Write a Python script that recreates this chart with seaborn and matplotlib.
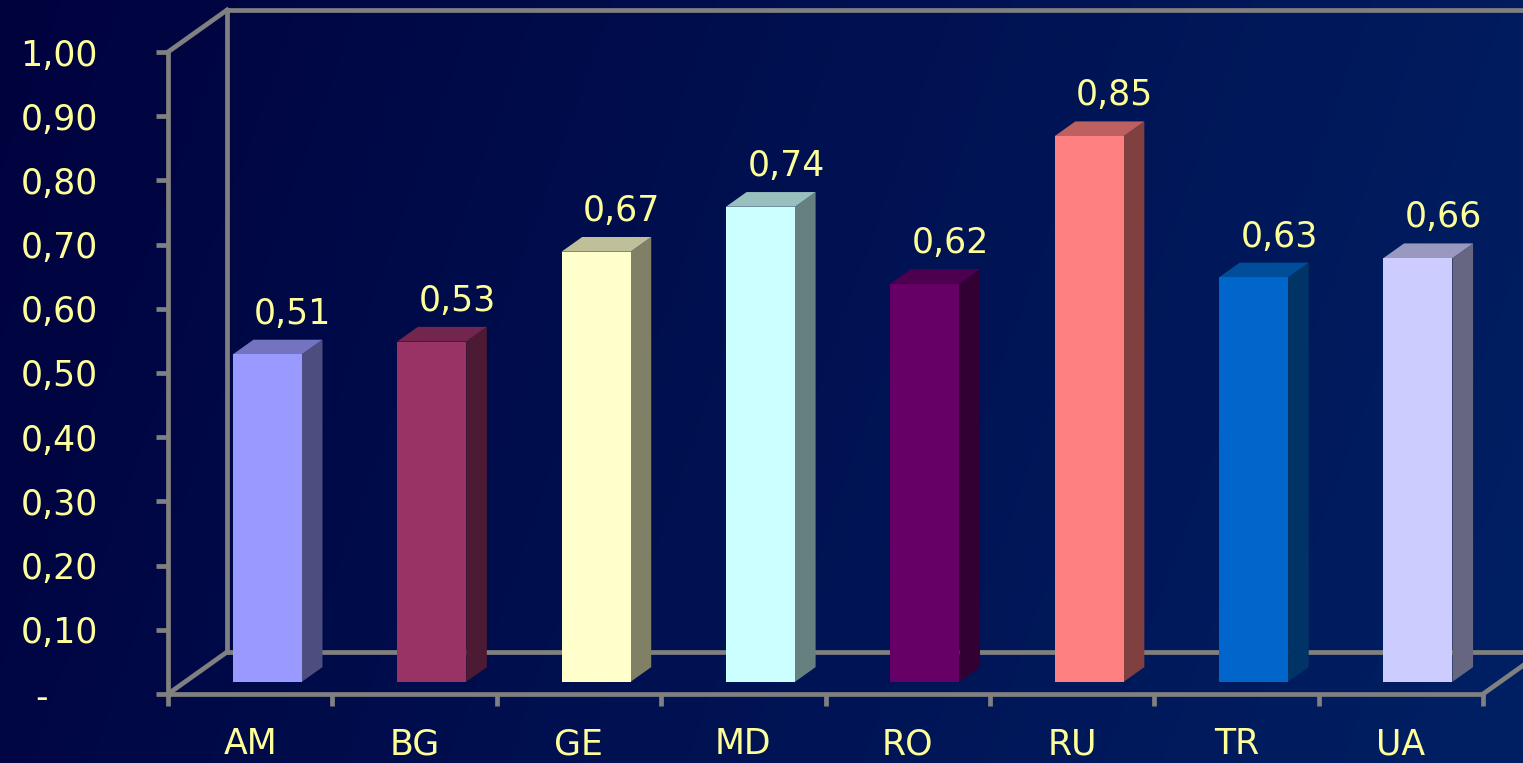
import numpy as np
import pandas as pd
import matplotlib
matplotlib.use("Agg")
import matplotlib.pyplot as plt
import matplotlib.transforms as mtransforms
import seaborn as sns

# ---- data ----
countries = ["AM", "BG", "GE", "MD", "RO", "RU", "TR", "UA"]
values = [0.51, 0.53, 0.67, 0.74, 0.62, 0.85, 0.63, 0.66]
front_colors = ["#9999FF", "#993366", "#FFFFCC", "#CCFFFF",
                "#660066", "#FF8080", "#0066CC", "#CCCCFF"]
y_ticks = [0.0, 0.1, 0.2, 0.3, 0.4, 0.5, 0.6, 0.7, 0.8, 0.9, 1.0]
y_tick_labels = ["-", "0,10", "0,20", "0,30", "0,40", "0,50",
                 "0,60", "0,70", "0,80", "0,90", "1,00"]

# ---- style ----
sns.set_theme(style="white")
plt.rcParams['font.family'] = ['DejaVu Sans']
TXT = "#FFFF99"
GRID = "#808080"
FS = 25
LW = 3.4

fig = plt.figure(figsize=(15.23, 7.63), dpi=100)

# background gradient
bg = fig.add_axes([0, 0, 1, 1], zorder=0)
gx = np.linspace(0, 1, 400)[None, :]
gy = np.linspace(0, 1, 200)[:, None]
t = np.clip(0.85 * gx + 0.15 * gy, 0, 1)
left_c = np.array([0, 2, 62]) / 255.0
right_c = np.array([0, 32, 100]) / 255.0
img = left_c[None, None, :] + (right_c - left_c)[None, None, :] * t[:, :, None]
bg.imshow(img, aspect="auto", extent=[0, 1, 0, 1], origin="upper")
bg.set_axis_off()

ax = fig.add_axes([168 / 1523, 69 / 763, 1315 / 1523, 642 / 763], zorder=1)
ax.set_facecolor("none")

DX, DY = 0.359, 0.0654      # depth vector in data units
F0, F1 = 0.29, 0.64         # bar front/back depth fractions
W = 0.42

shift = mtransforms.Affine2D().translate(F0 * DX, F0 * DY) + ax.transData

df = pd.DataFrame({"country": countries, "value": values})
sns.barplot(data=df, x="country", y="value", hue="country",
            palette=front_colors, saturation=1, width=W, legend=False,
            ax=ax, linewidth=0, transform=shift, zorder=4)


def shade(c, f):
    r, g, b = matplotlib.colors.to_rgb(c)
    return (r * f, g * f, b * f)


for i, (v, c) in enumerate(zip(values, front_colors)):
    x0 = i - W / 2 + F0 * DX
    x1 = x0 + W
    y0 = F0 * DY
    ddx = (F1 - F0) * DX
    ddy = (F1 - F0) * DY
    # side face
    ax.fill([x1, x1 + ddx, x1 + ddx, x1], [y0, y0 + ddy, y0 + v + ddy, y0 + v],
            color=shade(c, 0.5), lw=0, zorder=3, clip_on=False)
    # top face
    ax.fill([x0, x1, x1 + ddx, x0 + ddx], [y0 + v, y0 + v, y0 + v + ddy, y0 + v + ddy],
            color=shade(c, 0.75), lw=0, zorder=3, clip_on=False)
    ax.text(x0 + W / 2 + ddx + 0.03, y0 + v + ddy + 0.025,
            f"{v:.2f}".replace(".", ","), ha="center", va="baseline",
            color=TXT, fontsize=FS, zorder=5, clip_on=False)

# 3D frame lines
n = len(countries)
xl, xr = -0.5, n - 0.5
lkw = dict(color=GRID, lw=LW, clip_on=False, zorder=2, solid_capstyle="projecting")
ax.plot([xl + DX, xl + DX], [DY, 1 + DY], **lkw)
ax.plot([xl + DX, xr + DX], [1 + DY, 1 + DY], **lkw)
ax.plot([xl, xl + DX], [1, 1 + DY], **lkw)
ax.plot([xl + DX, xr + DX], [DY, DY], **lkw)
ax.plot([xl, xl + DX], [0, DY], **lkw)
ax.plot([xr, xr + DX], [0, DY], **lkw)

ax.set_xlim(xl, xr)
ax.set_ylim(0, 1)
ax.set_xlabel("")
ax.set_ylabel("")

for s in ["top", "right"]:
    ax.spines[s].set_visible(False)
for s in ["left", "bottom"]:
    ax.spines[s].set_visible(True)
    ax.spines[s].set_color(GRID)
    ax.spines[s].set_linewidth(LW)
    ax.spines[s].set_capstyle("projecting")

ax.set_yticks(y_ticks, y_tick_labels)
ax.set_xticks(range(n), countries)
ax.set_xticks(np.arange(n + 1) - 0.5, minor=True)
ax.tick_params(axis="y", left=True, length=8.6, width=LW, color=GRID,
               pad=42, labelsize=FS, labelcolor=TXT, direction="out")
ax.tick_params(axis="x", which="major", bottom=True, length=0, pad=24,
               labelsize=FS, labelcolor=TXT)
ax.tick_params(axis="x", which="minor", bottom=True, length=8.6, width=LW,
               color=GRID, direction="out")

# dash for zero sits further left (accounting format)
zl = ax.get_yticklabels()[0]
zl.set_transform(zl.get_transform() +
                 mtransforms.ScaledTranslation(-36 / 72, 0, fig.dpi_scale_trans))

fig.savefig("out.png", dpi=100)
